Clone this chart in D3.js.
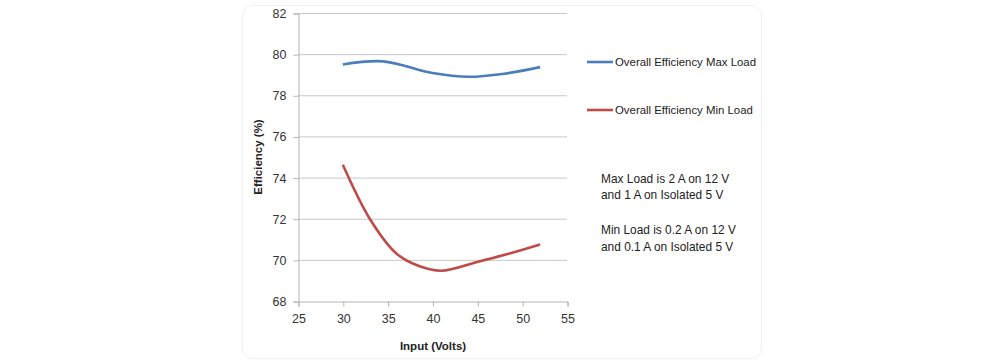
<!DOCTYPE html>
<html><head><meta charset="utf-8">
<script src="https://cdn.jsdelivr.net/npm/d3@7"></script>
<style>
body{margin:0;background:#fff;}
svg{font-family:"Liberation Sans","Open Sans",sans-serif;}
</style></head>
<body><svg id="c" width="1000" height="360"></svg>
<script>
const voltsMax = [30, 34.5, 40, 44, 48, 52];
const effMax = [79.5, 79.65, 79.08, 78.9, 79.05, 79.37];
const voltsMin = [30, 33, 36, 38.5, 41, 45, 48.5, 52];
const effMin = [74.62, 72.0, 70.3, 69.7, 69.47, 69.9, 70.3, 70.75];
const xTicks = [25, 30, 35, 40, 45, 50, 55];
const yTicks = [68, 70, 72, 74, 76, 78, 80, 82];
const seriesNames = ["Overall Efficiency Max Load", "Overall Efficiency Min Load"];
const colors = ["#4a7ebb", "#be4b48"];
const notes = [["Max Load is 2 A on 12 V", "and 1 A on Isolated 5 V"], ["Min Load is 0.2 A on 12 V", "and 0.1 A on Isolated 5 V"]];

const svg = d3.select("#c");
svg.append("rect").attr("x",242.5).attr("y",5.5).attr("width",519).attr("height",353).attr("rx",10)
  .attr("fill","#fff").attr("stroke","#f0f0f0");

const x = d3.scaleLinear().domain([25,55]).range([298,567]);
const y = d3.scaleLinear().domain([68,82]).range([301,13]);

const g = svg.append("g");
g.selectAll("line.grid").data(yTicks.slice(1)).join("line").attr("class","grid")
  .attr("x1",x(25)).attr("x2",x(55)).attr("y1",d=>y(d)+0.5).attr("y2",d=>y(d)+0.5)
  .attr("stroke","#c8c8c8").attr("stroke-width",1);

const yAxis = g.append("g").attr("transform",`translate(${x(25)+0.5},0.5)`)
  .call(d3.axisLeft(y).tickValues(yTicks).tickSize(5).tickPadding(7));
const xAxis = g.append("g").attr("transform",`translate(0.5,${y(68)+0.5})`)
  .call(d3.axisBottom(x).tickValues(xTicks).tickSize(5).tickPadding(8));
[yAxis,xAxis].forEach(a=>{
  a.selectAll("path,line").attr("stroke","#b4b4b4");
  a.selectAll("text").attr("font-size",12.5).attr("fill","#333").attr("font-family","'Liberation Sans',sans-serif");
});

const line = d3.line().curve(d3.curveCatmullRom.alpha(0.5)).x(d=>x(d[0])).y(d=>y(d[1]));
g.append("path").datum(voltsMax.map((v,i)=>[v,effMax[i]])).attr("d",line)
  .attr("fill","none").attr("stroke",colors[0]).attr("stroke-width",2.6);
g.append("path").datum(voltsMin.map((v,i)=>[v,effMin[i]])).attr("d",line)
  .attr("fill","none").attr("stroke",colors[1]).attr("stroke-width",2.6);

svg.append("text").attr("transform","translate(262,157) rotate(-90)").attr("text-anchor","middle")
  .attr("font-size",11.5).attr("font-weight","bold").attr("fill","#222").text("Efficiency (%)");
svg.append("text").attr("x",433).attr("y",350).attr("text-anchor","middle")
  .attr("font-size",11.5).attr("font-weight","bold").attr("fill","#222").text("Input (Volts)");

const leg = svg.append("g");
seriesNames.forEach((n,i)=>{
  const yy = 62 + i*48;
  leg.append("line").attr("x1",587).attr("x2",613).attr("y1",yy).attr("y2",yy)
    .attr("stroke",colors[i]).attr("stroke-width",2.6);
  leg.append("text").attr("x",615).attr("y",yy+4).attr("font-size",11.4).attr("fill","#222").text(n);
});
notes.forEach((pair,i)=>{
  pair.forEach((t,j)=>{
    svg.append("text").attr("x",601).attr("y",182.5+i*51.5+j*16.5).attr("font-size",11.9).attr("fill","#222").text(t);
  });
});
</script></body></html>
